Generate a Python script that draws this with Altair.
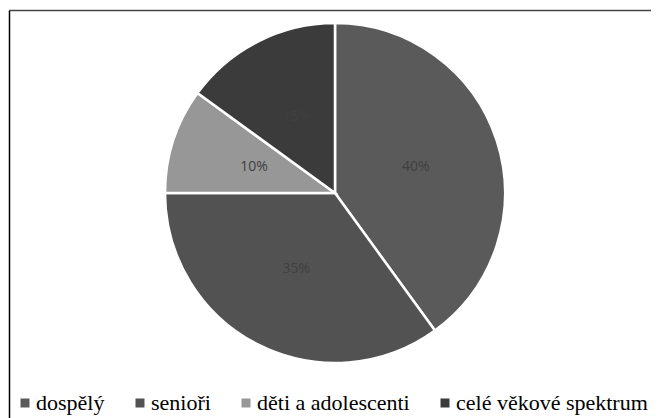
import altair as alt
import pandas as pd

categories = ["dospělý", "senioři", "děti a adolescenti", "celé věkové spektrum"]
values = [40, 35, 10, 15]
labels = ["40%", "35%", "10%", "15%"]
colors = ["#5a5a5a", "#525252", "#979797", "#3b3b3b"]

df = pd.DataFrame({
    "kategorie": categories,
    "hodnota": values,
    "popisek": labels,
    "poradi": list(range(len(categories))),
})

CX, CY, R = 327, 185, 170

color = alt.Color(
    "kategorie:N",
    scale=alt.Scale(domain=categories, range=colors),
    sort=categories,
    legend=alt.Legend(
        title=None,
        orient="none",
        direction="horizontal",
        legendX=6,
        legendY=384,
        padding=0,
        symbolType="square",
        symbolSize=81,
        symbolStrokeWidth=0,
        labelFont="Liberation Serif",
        labelFontSize=22,
        labelColor="#000000",
        labelOffset=0,
        columnPadding=24,
        gridAlign="each",
        labelLimit=400,
    ),
)

base = alt.Chart(df).encode(
    theta=alt.Theta("hodnota:Q", stack=True),
    order=alt.Order("poradi:Q"),
)

arcs = base.mark_arc(outerRadius=R, stroke="white", strokeWidth=2.5).encode(
    color=color,
    x=alt.value(CX),
    y=alt.value(CY),
)

texts = base.mark_text(radius=R / 2, font="Open Sans", fontSize=14, color="#404040").encode(
    text="popisek:N",
    x=alt.value(CX),
    y=alt.value(CY),
)

frame_df = pd.DataFrame({"a": [0]})
top_rule = alt.Chart(frame_df).mark_rule(color="#444444", strokeWidth=1.5).encode(
    x=alt.value(1.5), x2=alt.value(643), y=alt.value(2.5)
)
left_rule = alt.Chart(frame_df).mark_rule(color="#000000", strokeWidth=1.5).encode(
    x=alt.value(1.5), y=alt.value(2.5), y2=alt.value(410)
)

chart = alt.layer(arcs, texts, top_rule, left_rule).properties(
    width=643,
    height=410,
    padding=0,
    autosize=alt.AutoSizeParams(type="none"),
    background="white",
).configure_view(stroke=None)

chart.save("out.html", embed_options={"renderer": "svg", "actions": False})
